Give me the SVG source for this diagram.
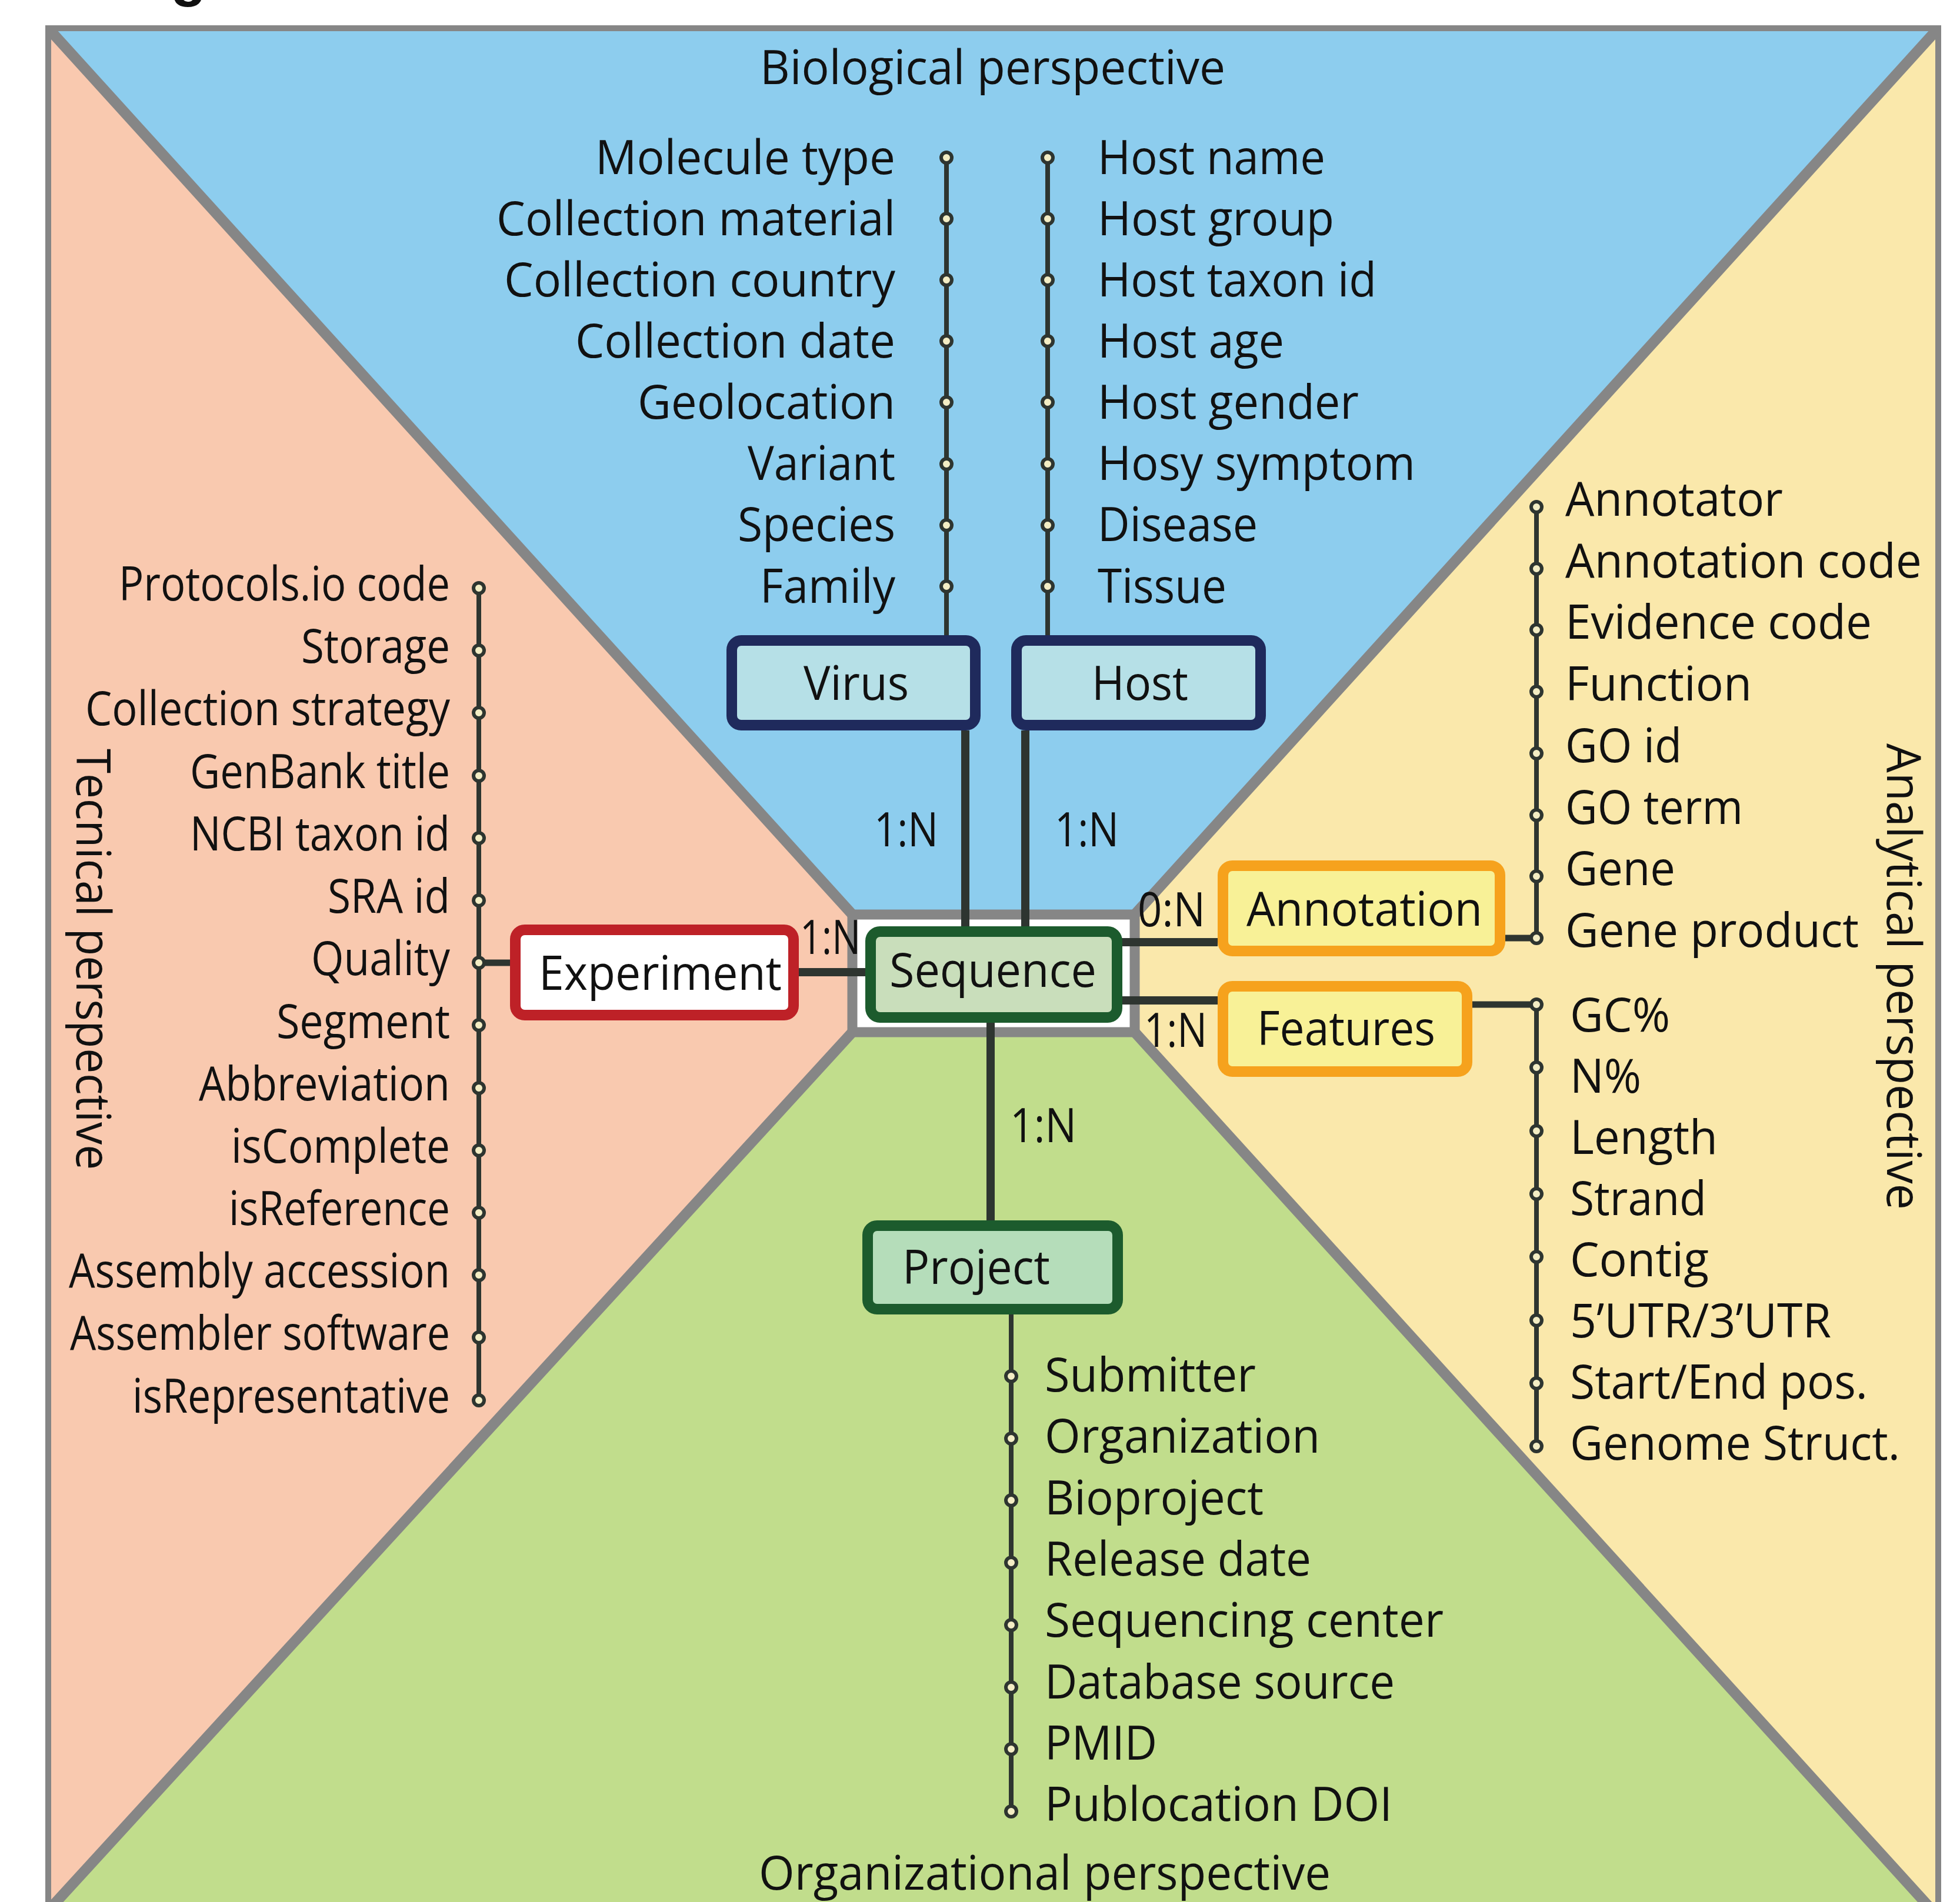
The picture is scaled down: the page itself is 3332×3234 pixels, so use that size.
<svg xmlns="http://www.w3.org/2000/svg" width="3332" height="3234" viewBox="0 0 3332 3234">
<style>
text{font-family:"Open Sans","Noto Sans","DejaVu Sans",sans-serif;font-size:80px;fill:#111;}
.box{stroke-width:18;}
.vb{fill:#B6E0E7;stroke:#1F2A5C;}
.gb{fill:#C9DEBB;stroke:#1C5B2D;}
.pb{fill:#B5DDBA;stroke:#1C5B2D;}
.eb{fill:#FFFFFF;stroke:#BE2127;}
.ab{fill:#F8F197;stroke:#F6A21D;}
.conn{stroke:#2E3530;stroke-width:14;fill:none;}
.link{stroke:#2E3530;stroke-width:11;fill:none;}
.attr{stroke:#2E3530;stroke-width:8;fill:none;}
.dot{fill:#F3EDC4;stroke:#2E3530;stroke-width:6;}
.sep{stroke:#868686;fill:none;}
</style>
<defs>
<circle id="d" r="9" class="dot"/>
<clipPath id="frameclip"><rect x="82" y="48" width="3213" height="3300"/></clipPath>
</defs>
<rect width="3332" height="3234" fill="#FFFFFF"/>
<text x="290" y="-9" style="font-family:'Liberation Sans',sans-serif;font-weight:bold;font-size:100px">g</text>
<g id="regions">
<g clip-path="url(#frameclip)">
<polygon points="82,48 3295,48 1929,1555 1449,1555" fill="#8DCDEE"/>
<polygon points="0,0 82,48 1449,1555 1449,1755 35,3300 0,3300" fill="#F9C9AF"/>
<polygon points="3332,0 3295,48 1929,1555 1929,1755 3332,3300" fill="#FAE8AB"/>
<polygon points="1449,1755 1929,1755 3332,3300 35,3300" fill="#C1DD8C"/>
<rect x="1449" y="1555" width="480" height="200" fill="#FFFFFF"/>
<g class="sep">
<line x1="82" y1="48" x2="1449" y2="1555" stroke-width="18"/>
<line x1="3295" y1="48" x2="1929" y2="1555" stroke-width="18"/>
<line x1="1449" y1="1755" x2="35" y2="3300" stroke-width="18"/>
<line x1="1929" y1="1755" x2="3332" y2="3300" stroke-width="18"/>
</g>
</g>
<g class="sep">
<rect x="1449" y="1555" width="480" height="200" stroke-width="17"/>
<polyline points="82,3300 82,48 3295,48 3295,3300" stroke-width="10"/>
</g>
</g>
<g id="perspectives">
<text x="1292" y="143" textLength="791" lengthAdjust="spacingAndGlyphs">Biological perspective</text>
<text x="1290" y="3213" textLength="972" lengthAdjust="spacingAndGlyphs">Organizational perspective</text>
<text transform="translate(130,1273) rotate(90)" textLength="716" lengthAdjust="spacingAndGlyphs">Tecnical perspective</text>
<text transform="translate(3208,1264) rotate(90)" textLength="793" lengthAdjust="spacingAndGlyphs">Analytical perspective</text>
</g>
<g id="connectors">
<line class="conn" x1="1641" y1="1242" x2="1641" y2="1575"/>
<line class="conn" x1="1743" y1="1242" x2="1743" y2="1575"/>
<line class="conn" x1="1358" y1="1653" x2="1471" y2="1653"/>
<line class="conn" x1="1907" y1="1602" x2="2070" y2="1602"/>
<line class="conn" x1="1907" y1="1701" x2="2070" y2="1701"/>
<line class="conn" x1="1684" y1="1738" x2="1684" y2="2075"/>
<line class="link" x1="814" y1="1637" x2="867" y2="1637"/>
<line class="link" x1="2559" y1="1595" x2="2612" y2="1595"/>
<line class="link" x1="2503" y1="1708" x2="2612" y2="1708"/>
<line class="attr" x1="1609" y1="268" x2="1609" y2="1080"/>
<line class="attr" x1="1781" y1="268" x2="1781" y2="1080"/>
<line class="attr" x1="814" y1="1000" x2="814" y2="2381"/>
<line class="attr" x1="2612" y1="862" x2="2612" y2="1595"/>
<line class="attr" x1="2612" y1="1708" x2="2612" y2="2459"/>
<line class="attr" x1="1719" y1="2235" x2="1719" y2="3080"/>
<text x="1486" y="1439" textLength="109" lengthAdjust="spacingAndGlyphs">1:N</text>
<text x="1793" y="1439" textLength="109" lengthAdjust="spacingAndGlyphs">1:N</text>
<text x="1360" y="1622" textLength="103" lengthAdjust="spacingAndGlyphs">1:N</text>
<text x="1934" y="1575" textLength="115" lengthAdjust="spacingAndGlyphs">0:N</text>
<text x="1945" y="1780" textLength="107" lengthAdjust="spacingAndGlyphs">1:N</text>
<text x="1717" y="1942" textLength="113" lengthAdjust="spacingAndGlyphs">1:N</text>
</g>
<g id="node-virus">
<rect class="box vb" x="1244" y="1089" width="414" height="144" rx="16"/>
<text x="1366" y="1190" textLength="179" lengthAdjust="spacingAndGlyphs">Virus</text>
</g>
<g id="node-host">
<rect class="box vb" x="1728" y="1089" width="415" height="144" rx="16"/>
<text x="1856" y="1190" textLength="164" lengthAdjust="spacingAndGlyphs">Host</text>
</g>
<g id="node-sequence">
<rect class="box gb" x="1480" y="1584" width="419" height="146" rx="16"/>
<text x="1512" y="1678" textLength="352" lengthAdjust="spacingAndGlyphs">Sequence</text>
</g>
<g id="node-experiment">
<rect class="box eb" x="876" y="1581" width="473" height="145" rx="16"/>
<text x="916" y="1683" textLength="413" lengthAdjust="spacingAndGlyphs">Experiment</text>
</g>
<g id="node-annotation">
<rect class="box ab" x="2079" y="1472" width="471" height="145" rx="16"/>
<text x="2119" y="1574" textLength="401" lengthAdjust="spacingAndGlyphs">Annotation</text>
</g>
<g id="node-features">
<rect class="box ab" x="2079" y="1677" width="415" height="145" rx="16"/>
<text x="2137" y="1777" textLength="303" lengthAdjust="spacingAndGlyphs">Features</text>
</g>
<g id="node-project">
<rect class="box pb" x="1475" y="2084" width="425" height="142" rx="16"/>
<text x="1534" y="2183" textLength="251" lengthAdjust="spacingAndGlyphs">Project</text>
</g>
<g id="virus-attributes">
<use href="#d" x="1609" y="268"/><use href="#d" x="1609" y="372"/><use href="#d" x="1609" y="476"/><use href="#d" x="1609" y="580"/><use href="#d" x="1609" y="684"/><use href="#d" x="1609" y="789"/><use href="#d" x="1609" y="893"/><use href="#d" x="1609" y="997"/>
<text x="1012" y="296" textLength="510" lengthAdjust="spacingAndGlyphs">Molecule type</text>
<text x="844" y="400" textLength="678" lengthAdjust="spacingAndGlyphs">Collection material</text>
<text x="857" y="504" textLength="665" lengthAdjust="spacingAndGlyphs">Collection country</text>
<text x="978" y="608" textLength="544" lengthAdjust="spacingAndGlyphs">Collection date</text>
<text x="1084" y="712" textLength="438" lengthAdjust="spacingAndGlyphs">Geolocation</text>
<text x="1271" y="816" textLength="251" lengthAdjust="spacingAndGlyphs">Variant</text>
<text x="1254" y="920" textLength="268" lengthAdjust="spacingAndGlyphs">Species</text>
<text x="1292" y="1025" textLength="230" lengthAdjust="spacingAndGlyphs">Family</text>
</g>
<g id="host-attributes">
<use href="#d" x="1781" y="268"/><use href="#d" x="1781" y="372"/><use href="#d" x="1781" y="476"/><use href="#d" x="1781" y="580"/><use href="#d" x="1781" y="684"/><use href="#d" x="1781" y="789"/><use href="#d" x="1781" y="893"/><use href="#d" x="1781" y="997"/>
<text x="1866" y="296" textLength="387" lengthAdjust="spacingAndGlyphs">Host name</text>
<text x="1866" y="400" textLength="402" lengthAdjust="spacingAndGlyphs">Host group</text>
<text x="1866" y="504" textLength="474" lengthAdjust="spacingAndGlyphs">Host taxon id</text>
<text x="1866" y="608" textLength="317" lengthAdjust="spacingAndGlyphs">Host age</text>
<text x="1866" y="712" textLength="444" lengthAdjust="spacingAndGlyphs">Host gender</text>
<text x="1866" y="816" textLength="540" lengthAdjust="spacingAndGlyphs">Hosy symptom</text>
<text x="1866" y="920" textLength="272" lengthAdjust="spacingAndGlyphs">Disease</text>
<text x="1866" y="1025" textLength="219" lengthAdjust="spacingAndGlyphs">Tissue</text>
</g>
<g id="experiment-attributes">
<use href="#d" x="814" y="1000"/><use href="#d" x="814" y="1106"/><use href="#d" x="814" y="1212"/><use href="#d" x="814" y="1319"/><use href="#d" x="814" y="1425"/><use href="#d" x="814" y="1531"/><use href="#d" x="814" y="1637"/><use href="#d" x="814" y="1743"/><use href="#d" x="814" y="1850"/><use href="#d" x="814" y="1956"/><use href="#d" x="814" y="2062"/><use href="#d" x="814" y="2168"/><use href="#d" x="814" y="2274"/><use href="#d" x="814" y="2381"/>
<text x="202" y="1021" textLength="563" lengthAdjust="spacingAndGlyphs">Protocols.io code</text>
<text x="512" y="1127" textLength="253" lengthAdjust="spacingAndGlyphs">Storage</text>
<text x="145" y="1233" textLength="620" lengthAdjust="spacingAndGlyphs">Collection strategy</text>
<text x="323" y="1340" textLength="442" lengthAdjust="spacingAndGlyphs">GenBank title</text>
<text x="323" y="1446" textLength="442" lengthAdjust="spacingAndGlyphs">NCBI taxon id</text>
<text x="557" y="1552" textLength="208" lengthAdjust="spacingAndGlyphs">SRA id</text>
<text x="529" y="1658" textLength="236" lengthAdjust="spacingAndGlyphs">Quality</text>
<text x="470" y="1765" textLength="295" lengthAdjust="spacingAndGlyphs">Segment</text>
<text x="338" y="1871" textLength="427" lengthAdjust="spacingAndGlyphs">Abbreviation</text>
<text x="393" y="1977" textLength="372" lengthAdjust="spacingAndGlyphs">isComplete</text>
<text x="389" y="2083" textLength="376" lengthAdjust="spacingAndGlyphs">isReference</text>
<text x="117" y="2189" textLength="648" lengthAdjust="spacingAndGlyphs">Assembly accession</text>
<text x="119" y="2295" textLength="646" lengthAdjust="spacingAndGlyphs">Assembler software</text>
<text x="225" y="2402" textLength="540" lengthAdjust="spacingAndGlyphs">isRepresentative</text>
</g>
<g id="annotation-attributes">
<use href="#d" x="2612" y="862"/><use href="#d" x="2612" y="967"/><use href="#d" x="2612" y="1071"/><use href="#d" x="2612" y="1176"/><use href="#d" x="2612" y="1281"/><use href="#d" x="2612" y="1386"/><use href="#d" x="2612" y="1490"/><use href="#d" x="2612" y="1595"/>
<text x="2661" y="877" textLength="370" lengthAdjust="spacingAndGlyphs">Annotator</text>
<text x="2661" y="982" textLength="606" lengthAdjust="spacingAndGlyphs">Annotation code</text>
<text x="2661" y="1086" textLength="521" lengthAdjust="spacingAndGlyphs">Evidence code</text>
<text x="2661" y="1191" textLength="317" lengthAdjust="spacingAndGlyphs">Function</text>
<text x="2661" y="1296" textLength="198" lengthAdjust="spacingAndGlyphs">GO id</text>
<text x="2661" y="1401" textLength="302" lengthAdjust="spacingAndGlyphs">GO term</text>
<text x="2661" y="1505" textLength="187" lengthAdjust="spacingAndGlyphs">Gene</text>
<text x="2661" y="1610" textLength="499" lengthAdjust="spacingAndGlyphs">Gene product</text>
</g>
<g id="features-attributes">
<use href="#d" x="2612" y="1708"/><use href="#d" x="2612" y="1815"/><use href="#d" x="2612" y="1923"/><use href="#d" x="2612" y="2030"/><use href="#d" x="2612" y="2137"/><use href="#d" x="2612" y="2245"/><use href="#d" x="2612" y="2352"/><use href="#d" x="2612" y="2459"/>
<text x="2669" y="1754" textLength="170" lengthAdjust="spacingAndGlyphs">GC%</text>
<text x="2669" y="1858" textLength="121" lengthAdjust="spacingAndGlyphs">N%</text>
<text x="2669" y="1962" textLength="251" lengthAdjust="spacingAndGlyphs">Length</text>
<text x="2669" y="2066" textLength="232" lengthAdjust="spacingAndGlyphs">Strand</text>
<text x="2669" y="2170" textLength="236" lengthAdjust="spacingAndGlyphs">Contig</text>
<text x="2669" y="2274" textLength="444" lengthAdjust="spacingAndGlyphs">5’UTR/3’UTR</text>
<text x="2669" y="2378" textLength="506" lengthAdjust="spacingAndGlyphs">Start/End pos.</text>
<text x="2669" y="2482" textLength="561" lengthAdjust="spacingAndGlyphs">Genome Struct.</text>
</g>
<g id="project-attributes">
<use href="#d" x="1719" y="2340"/><use href="#d" x="1719" y="2446"/><use href="#d" x="1719" y="2551"/><use href="#d" x="1719" y="2657"/><use href="#d" x="1719" y="2763"/><use href="#d" x="1719" y="2869"/><use href="#d" x="1719" y="2974"/><use href="#d" x="1719" y="3080"/>
<text x="1776" y="2366" textLength="359" lengthAdjust="spacingAndGlyphs">Submitter</text>
<text x="1776" y="2470" textLength="468" lengthAdjust="spacingAndGlyphs">Organization</text>
<text x="1776" y="2575" textLength="372" lengthAdjust="spacingAndGlyphs">Bioproject</text>
<text x="1776" y="2679" textLength="453" lengthAdjust="spacingAndGlyphs">Release date</text>
<text x="1776" y="2783" textLength="678" lengthAdjust="spacingAndGlyphs">Sequencing center</text>
<text x="1776" y="2888" textLength="595" lengthAdjust="spacingAndGlyphs">Database source</text>
<text x="1776" y="2992" textLength="191" lengthAdjust="spacingAndGlyphs">PMID</text>
<text x="1776" y="3096" textLength="591" lengthAdjust="spacingAndGlyphs">Publocation DOI</text>
</g>
</svg>
